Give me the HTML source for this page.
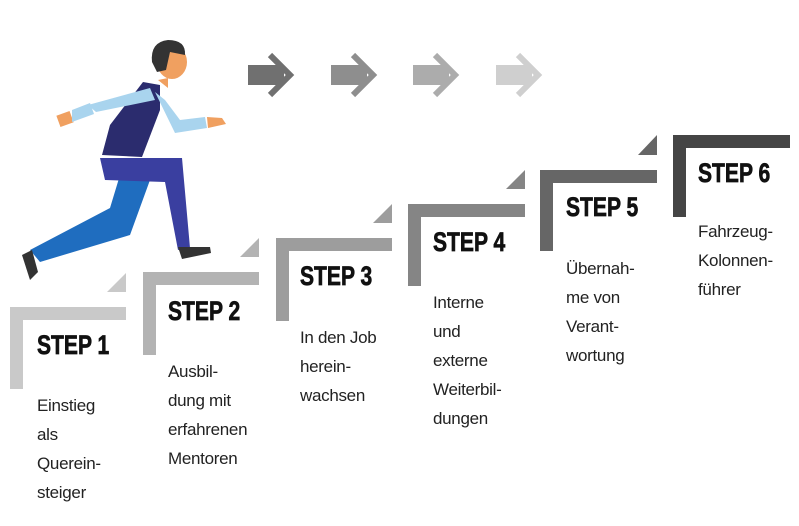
<!DOCTYPE html>
<html><head><meta charset="utf-8"><style>
body{margin:0;width:799px;height:526px;background:#fff;position:relative;overflow:hidden;font-family:"Liberation Sans",sans-serif}
.s{position:absolute;font-family:"Liberation Sans Narrow","Liberation Sans",sans-serif;font-weight:bold;font-size:27px;line-height:27px;color:#111;transform:scaleX(.78);transform-origin:left top;white-space:nowrap;-webkit-text-stroke:0.7px #111}
.t{position:absolute;font-size:17px;line-height:29px;color:#222;letter-spacing:-0.3px;white-space:nowrap}
</style></head><body>
<svg width="799" height="526" style="position:absolute;left:0;top:0">
<g>
<g fill="#707070"><rect x="248" y="65" width="36" height="20"/><polyline points="270,55 290,75 270,95" fill="none" stroke="#707070" stroke-width="6"/></g>
<g fill="#8e8e8e"><rect x="331" y="65" width="36" height="20"/><polyline points="353,55 373,75 353,95" fill="none" stroke="#8e8e8e" stroke-width="6"/></g>
<g fill="#acacac"><rect x="413" y="65" width="36" height="20"/><polyline points="435,55 455,75 435,95" fill="none" stroke="#acacac" stroke-width="6"/></g>
<g fill="#cfcfcf"><rect x="496" y="65" width="36" height="20"/><polyline points="518,55 538,75 518,95" fill="none" stroke="#cfcfcf" stroke-width="6"/></g>
</g>
<g fill="#c9c9c9"><rect x="10" y="307" width="116" height="13"/><rect x="10" y="307" width="13" height="82"/><polygon points="126,273 126,292 107,292"/></g>
<g fill="#b3b3b3"><rect x="143" y="272" width="116" height="13"/><rect x="143" y="272" width="13" height="83"/><polygon points="259,238 259,257 240,257"/></g>
<g fill="#9d9d9d"><rect x="276" y="238" width="116" height="13"/><rect x="276" y="238" width="13" height="83"/><polygon points="392,204 392,223 373,223"/></g>
<g fill="#858585"><rect x="408" y="204" width="117" height="13"/><rect x="408" y="204" width="13" height="82"/><polygon points="525,170 525,189 506,189"/></g>
<g fill="#666"><rect x="540" y="170" width="117" height="13"/><rect x="540" y="170" width="13" height="81"/><polygon points="657,135 657,155 638,155"/></g>
<g fill="#454545"><rect x="673" y="135" width="117" height="13"/><rect x="673" y="135" width="13" height="82"/></g>
<polygon points="30,250 110,208 120,175 150,180 130,235 40,262" fill="#1f6dbf"/>
<polygon points="22,255 32,250 38,272 30,280" fill="#333"/>
<polygon points="100,158 182,158 190,248 178,250 165,182 105,180" fill="#3a3fa0"/>
<polygon points="178,247 210,247 211,253 182,259" fill="#333"/>
<polygon points="102,155 110,125 143,82 160,85 160,110 142,157" fill="#2b2c6e"/>
<polygon points="88,105 150,88 155,100 96,112" fill="#a9d4ee"/>
<rect x="58" y="113" width="14" height="12" fill="#f0a060" transform="rotate(-20 65 119)"/>
<polygon points="72,110 90,103 94,114 72,122" fill="#a9d4ee"/>
<polygon points="155,92 165,100 180,120 205,117 207,128 175,133" fill="#a9d4ee"/>
<polygon points="207,117 222,118 226,124 208,128" fill="#f0a060"/>
<polygon points="158,80 168,78 168,88" fill="#f0a060"/>
<ellipse cx="172" cy="62" rx="15" ry="17" fill="#f0a060"/>
<path d="M152,62 Q150,42 168,40 Q186,40 185,55 L170,52 L166,70 L157,72 Z" fill="#333"/>
</svg>
<div class="s" style="left:37px;top:332px">STEP 1</div>
<div class="s" style="left:168px;top:298px">STEP 2</div>
<div class="s" style="left:300px;top:263px">STEP 3</div>
<div class="s" style="left:433px;top:229px">STEP 4</div>
<div class="s" style="left:566px;top:194px">STEP 5</div>
<div class="s" style="left:698px;top:160px">STEP 6</div>
<div class="t" style="left:37px;top:391px">Einstieg<br>als<br>Querein-<br>steiger</div>
<div class="t" style="left:168px;top:357px">Ausbil-<br>dung mit<br>erfahrenen<br>Mentoren</div>
<div class="t" style="left:300px;top:323px">In den Job<br>herein-<br>wachsen</div>
<div class="t" style="left:433px;top:288px">Interne<br>und<br>externe<br>Weiterbil-<br>dungen</div>
<div class="t" style="left:566px;top:254px">Übernah-<br>me von<br>Verant-<br>wortung</div>
<div class="t" style="left:698px;top:217px">Fahrzeug-<br>Kolonnen-<br>führer</div>
</body></html>
